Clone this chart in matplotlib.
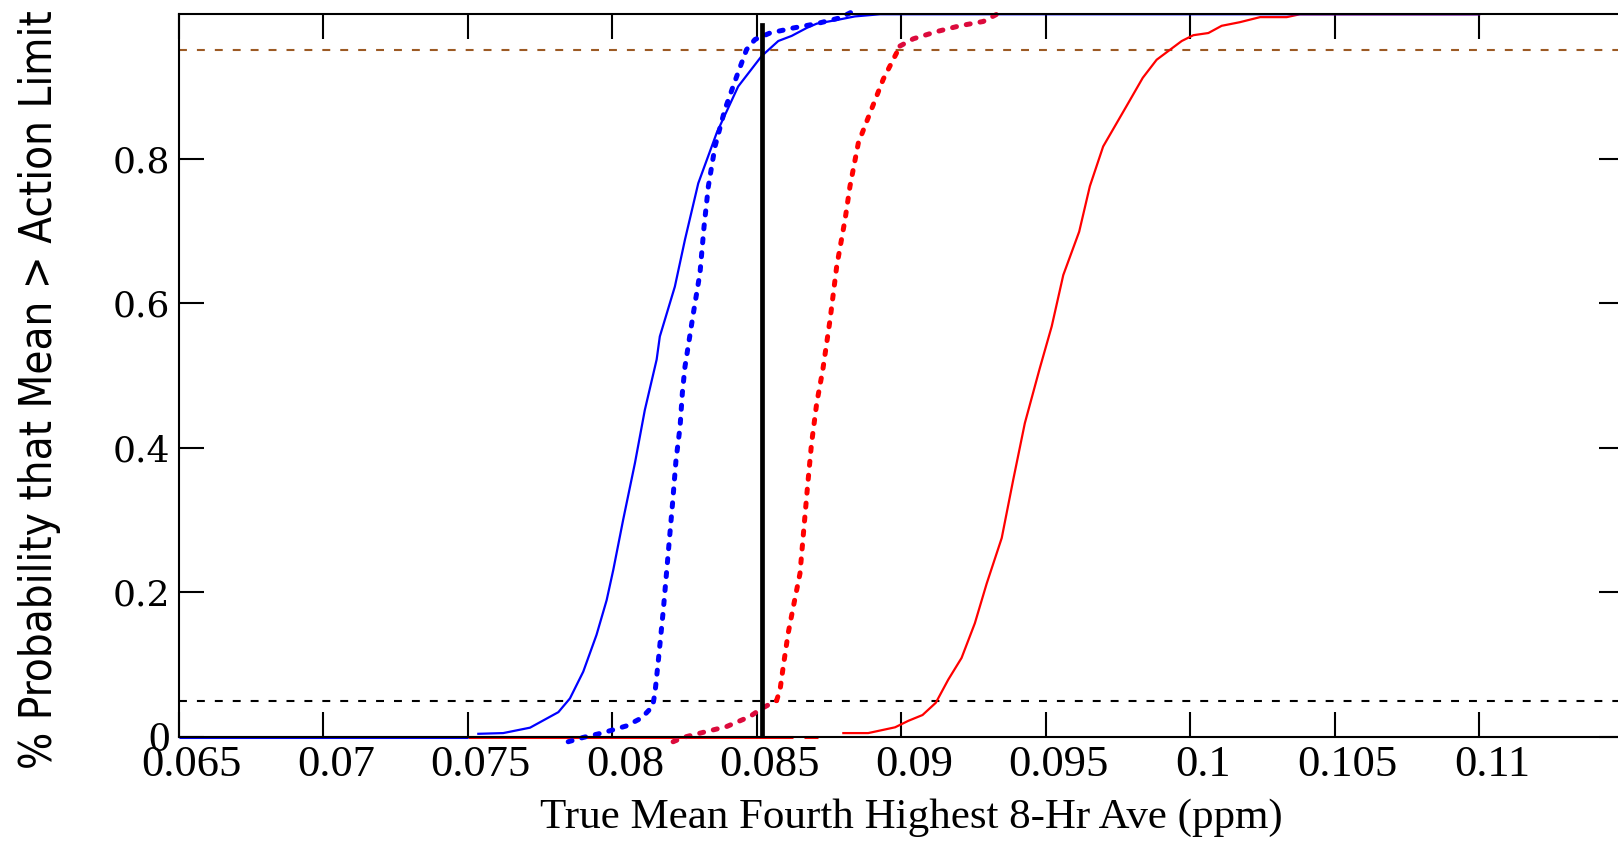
import matplotlib
matplotlib.use("Agg")
import matplotlib.pyplot as plt
import matplotlib.font_manager as fm
from matplotlib.transforms import ScaledTranslation

# данные
x_ticks = [0.065, 0.07, 0.075, 0.08, 0.085, 0.09, 0.095, 0.1, 0.105, 0.11]
x_tick_labels = ['0.065', '0.07', '0.075', '0.08', '0.085', '0.09', '0.095', '0.1', '0.105', '0.11']
y_ticks = [0, 0.2, 0.4, 0.6, 0.8]
y_tick_labels = ['0', '0.2', '0.4', '0.6', '0.8']

blue_solid_x = [0.07537, 0.07623, 0.07716, 0.07814, 0.07854, 0.07900, 0.07946, 0.07981, 0.08004,
                0.08038, 0.08079, 0.08113, 0.08154, 0.08165, 0.08217, 0.08252, 0.08298, 0.08362,
                0.08436, 0.08517, 0.08575, 0.08621, 0.08673, 0.08708, 0.08777, 0.08840, 0.08927, 0.110]
blue_solid_y = [0.004, 0.005, 0.0125, 0.034, 0.053, 0.090, 0.141, 0.189, 0.231,
                0.300, 0.379, 0.452, 0.522, 0.554, 0.623, 0.688, 0.766, 0.836,
                0.900, 0.942, 0.963, 0.970, 0.981, 0.987, 0.992, 0.997, 1.0, 1.0]

blue_dot_x = [0.07848, 0.07900, 0.07969, 0.08050, 0.08102, 0.08140, 0.08148, 0.08160, 0.08177,
              0.08194, 0.08209, 0.08221, 0.08235, 0.08243, 0.08252, 0.08281, 0.08304, 0.08318,
              0.08333, 0.08356, 0.08390, 0.08431, 0.08465, 0.08494, 0.08546, 0.08627, 0.08708,
              0.08788, 0.08829]
blue_dot_y = [-0.007, -0.001, 0.0055, 0.015, 0.026, 0.042, 0.060, 0.106, 0.175,
              0.254, 0.323, 0.383, 0.429, 0.476, 0.512, 0.586, 0.642, 0.706,
              0.762, 0.817, 0.868, 0.914, 0.951, 0.965, 0.974, 0.981, 0.987,
              0.995, 1.003]

red_dot_x = [0.08211, 0.08246, 0.08315, 0.08396, 0.08477, 0.08517, 0.08569, 0.08581, 0.08592,
             0.08609, 0.08627, 0.08650, 0.08664, 0.08676, 0.08690, 0.08708, 0.08729, 0.08754,
             0.08777, 0.08806, 0.08823, 0.08852, 0.08892, 0.08938, 0.08990, 0.08996, 0.09042,
             0.09123, 0.09203, 0.09284, 0.09331]
red_dot_y = [-0.007, -0.001, 0.006, 0.014, 0.028, 0.039, 0.050, 0.065, 0.097,
             0.143, 0.180, 0.226, 0.291, 0.346, 0.406, 0.462, 0.508, 0.577,
             0.651, 0.716, 0.762, 0.822, 0.863, 0.910, 0.951, 0.956, 0.966,
             0.976, 0.984, 0.990, 1.0]

red_solid_x = [0.08800, 0.08886, 0.08979, 0.09025, 0.09074, 0.09120, 0.09163, 0.09209, 0.09255,
               0.09296, 0.09348, 0.09388, 0.09428, 0.09479, 0.09521, 0.09561, 0.09616, 0.09653,
               0.09699, 0.09780, 0.09836, 0.09884, 0.09971, 0.10011, 0.10063, 0.10109, 0.10172,
               0.10242, 0.10334, 0.10380, 0.110]
red_solid_y = [0.005, 0.005, 0.013, 0.022, 0.030, 0.047, 0.079, 0.109, 0.157,
               0.212, 0.275, 0.356, 0.434, 0.509, 0.568, 0.639, 0.699, 0.762,
               0.817, 0.873, 0.912, 0.937, 0.963, 0.971, 0.974, 0.984, 0.989,
               0.996, 0.996, 1.0, 1.0]

# участки на нуле
blue_zero_x = [0.065, 0.075]
red_zero_x = [[0.075, 0.08627], [0.08664, 0.08713]]

upper_limit = 0.95
lower_limit = 0.05
action_x = 0.0852
action_top = 0.985

BLUE = '#0000ff'
RED = '#ff0000'
CRIMSON = '#dc0a3c'
BROWN = '#9c5a24'


def narrow_font():
    # ищем узкий шрифт без засечек, если он есть
    best = None
    for f in fm.fontManager.ttflist:
        st = str(f.stretch).lower()
        if ('narrow' in f.name.lower() or 'condensed' in f.name.lower() or 'condensed' in st) \
                and f.style == 'normal' and f.weight in (400, 'normal', 'regular'):
            if best is None or 'Liberation' in f.name:
                best = f
    return best


fig = plt.figure(figsize=(16.18, 8.43), dpi=100)
ax = fig.add_axes([0.1104, 0.1261, 0.8931, 0.857])

# пороги
ax.axhline(upper_limit, color=BROWN, lw=1.5, dashes=(3.8, 4.8))
ax.axhline(lower_limit, color='black', lw=1.5, dashes=(3.8, 4.8))

# нулевые участки
for seg in red_zero_x:
    ax.plot(seg, [0, 0], color=RED, lw=2.2, clip_on=False, solid_capstyle='butt')
ax.plot(blue_zero_x, [0, 0], color=BLUE, lw=2.2, clip_on=False, solid_capstyle='butt')

# кривые
ax.plot(red_solid_x, red_solid_y, color=RED, lw=1.6, clip_on=False)
ax.plot(blue_solid_x, blue_solid_y, color=BLUE, lw=1.6, clip_on=False)

dot = dict(lw=3.6, dashes=(0.8, 2.0), dash_capstyle='round', clip_on=False)
ax.plot(red_dot_x[:7], red_dot_y[:7], color=CRIMSON, **dot)
ax.plot(red_dot_x[6:26], red_dot_y[6:26], color=RED, **dot)
ax.plot(red_dot_x[25:], red_dot_y[25:], color=CRIMSON, **dot)
ax.plot(blue_dot_x, blue_dot_y, color=BLUE, **dot)

# вертикальная линия
ax.plot([action_x, action_x], [0, action_top], color='black', lw=3.4)

ax.set_xlim(0.065, 0.115)
ax.set_ylim(0, 1)

ax.set_xticks(x_ticks, x_tick_labels)
ax.set_yticks(y_ticks, y_tick_labels)
ax.tick_params(direction='in', length=18, width=1.5, top=True, right=True, pad=6)
shift = ScaledTranslation(13 / 100, 0, fig.dpi_scale_trans)
for lab in ax.get_xticklabels():
    lab.set_fontfamily('Liberation Serif')
    lab.set_fontsize(32)
    lab.set_transform(lab.get_transform() + shift)
for lab in ax.get_yticklabels():
    lab.set_fontfamily('DejaVu Serif')
    lab.set_fontsize(26)
ax.get_yticklabels()[0].set_fontfamily('Liberation Serif')
ax.get_yticklabels()[0].set_fontsize(31)

for s in ax.spines.values():
    s.set_linewidth(1.5)

ax.set_xlabel('True Mean Fourth Highest 8-Hr Ave (ppm)', fontfamily='Liberation Serif',
              fontsize=31, va='center')
ax.xaxis.set_label_coords(0.5068, -0.1126)

nf = narrow_font()
if nf is not None:
    yl = ax.set_ylabel('% Probability that Mean > Action Limit', va='center',
                       fontproperties=fm.FontProperties(fname=nf.fname, size=30))
else:
    yl = ax.set_ylabel('% Probability that Mean > Action Limit', va='center',
                       fontfamily='Liberation Sans', fontsize=30)
ax.yaxis.set_label_coords(-0.0960, 0.481)

# подгоняем размер подписи оси y под длину ~758 px
fig.canvas.draw()
h = yl.get_window_extent().height
yl.set_fontsize(yl.get_fontsize() * 758 / h)

fig.savefig('out.png', dpi=100)
